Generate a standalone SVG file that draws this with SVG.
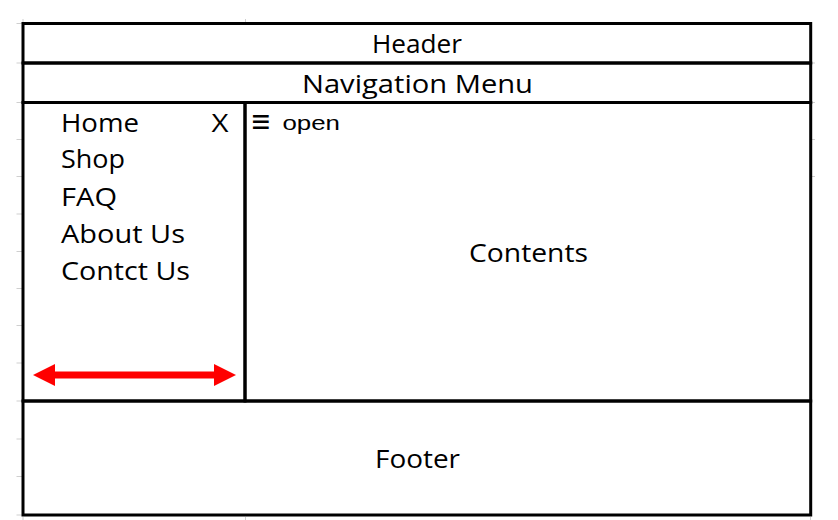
<svg xmlns="http://www.w3.org/2000/svg" width="838" height="520" viewBox="0 0 838 520">
  <style>
    .frame { fill: none; stroke: #000; stroke-width: 3; }
    .grid { stroke: #cfcfcf; stroke-width: 1; fill: none; }
    .lbl { font-family: "Open Sans", "Noto Sans", sans-serif; font-size: 25px; fill: #000; }
    .small { font-family: "Liberation Sans", Arial, sans-serif; font-size: 21px; fill: #000; }
    .sym { font-family: "DejaVu Sans", sans-serif; font-size: 32px; }
    .arrow { stroke: #ff0000; stroke-width: 6.8; fill: none; }
  </style>
  <defs>
    <marker id="head" markerUnits="userSpaceOnUse" markerWidth="22" markerHeight="22" refX="0" refY="11" orient="auto-start-reverse" viewBox="0 0 22 22">
      <path d="M0,0 L22,11 L0,22 Z" fill="#ff0000"/>
    </marker>
  </defs>
  <rect width="838" height="520" fill="#fff"/>

  <g id="gridlines" class="grid">
    <path d="M16.5,23.5H22 M16.5,63H22 M16.5,102.5H22 M16.5,139.5H22 M16.5,176.5H22 M16.5,214H22 M16.5,251.5H22 M16.5,288.5H22 M16.5,325.5H22 M16.5,363H22 M16.5,401H22 M16.5,439H22 M16.5,476.5H22 M16.5,515H22"/>
    <path d="M812,63H815 M812,102.5H815 M812,139.5H815 M812,176.5H815"/>
    <path d="M23,19V22 M245.5,19V22 M23,517V520 M245.5,517V520 M810.5,517V520"/>
  </g>

  <g id="header">
    <rect class="frame" x="23" y="23.5" width="787.7" height="39.5"/>
    <text class="lbl" x="372" y="53" textLength="90" lengthAdjust="spacingAndGlyphs">Header</text>
  </g>

  <g id="navigation-menu">
    <rect class="frame" x="23" y="63" width="787.7" height="39.5"/>
    <text class="lbl" x="302" y="93" textLength="231" lengthAdjust="spacingAndGlyphs">Navigation Menu</text>
  </g>

  <g id="sidebar">
    <rect class="frame" x="23" y="102.5" width="222" height="298.5"/>
    <text class="lbl" x="61" y="131.5" textLength="78" lengthAdjust="spacingAndGlyphs">Home</text>
    <text class="lbl" x="211.5" y="131.5" textLength="17" lengthAdjust="spacingAndGlyphs">X</text>
    <text class="lbl" x="61" y="167.5" textLength="64" lengthAdjust="spacingAndGlyphs">Shop</text>
    <text class="lbl" x="61" y="206" textLength="56" lengthAdjust="spacingAndGlyphs">FAQ</text>
    <text class="lbl" x="61" y="242.7" textLength="124" lengthAdjust="spacingAndGlyphs">About Us</text>
    <text class="lbl" x="61" y="280" textLength="129" lengthAdjust="spacingAndGlyphs">Contct Us</text>
  </g>

  <g id="contents">
    <rect class="frame" x="245" y="102.5" width="565.7" height="298.5"/>
    <text class="small" y="130"><tspan class="sym" x="250.5" y="132" textLength="21" lengthAdjust="spacingAndGlyphs">≡</tspan><tspan x="282.5" y="130" textLength="57.5" lengthAdjust="spacingAndGlyphs">open</tspan></text>
    <text class="lbl" x="469" y="262.3" textLength="119" lengthAdjust="spacingAndGlyphs">Contents</text>
  </g>

  <g id="footer">
    <rect class="frame" x="23" y="401" width="787.7" height="114"/>
    <text class="lbl" x="375" y="467.7" textLength="85" lengthAdjust="spacingAndGlyphs">Footer</text>
  </g>

  <g id="connectors">
    <line class="arrow" x1="55" y1="375" x2="214" y2="375" marker-start="url(#head)" marker-end="url(#head)"/>
  </g>
</svg>
